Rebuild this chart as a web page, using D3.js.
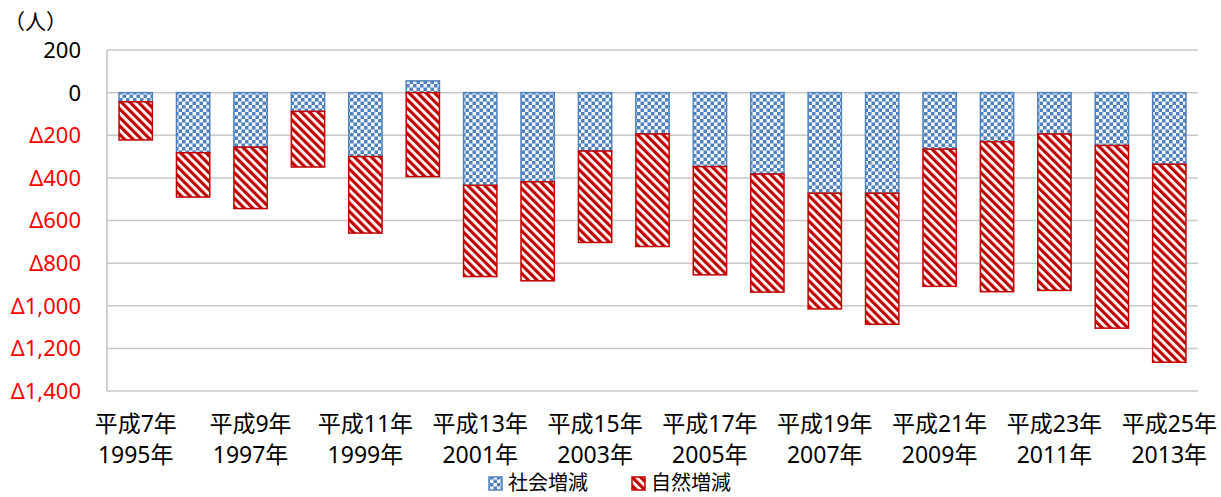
<!DOCTYPE html>
<html>
<head>
<meta charset="utf-8">
<script src="https://cdn.jsdelivr.net/npm/d3@7"></script>
<style>
  body { margin: 0; background: #fff; }
  svg { display: block; font-family: "Noto Sans", "Noto Sans CJK JP", sans-serif; }
  .tick-y { font-size: 22px; }
  .tick-x { font-size: 23px; fill: #000; }
  .legend text { font-size: 20px; }
</style>
</head>
<body>
<svg id="chart" width="1221" height="497"></svg>
<script>
// 年次（平成7年〜平成25年）
const years = [1995, 1996, 1997, 1998, 1999, 2000, 2001, 2002, 2003, 2004,
               2005, 2006, 2007, 2008, 2009, 2010, 2011, 2012, 2013];
// 社会増減
const social = [-43, -282, -256, -88, -300, 55, -435, -418, -274, -194,
                -347, -382, -472, -472, -265, -230, -194, -248, -336];
// 自然増減
const natural = [-179, -208, -288, -261, -359, -394, -428, -465, -429, -528,
                 -508, -554, -543, -615, -644, -704, -734, -857, -929];
const yTicks = [200, 0, -200, -400, -600, -800, -1000, -1200, -1400];
const seriesNames = { social: '社会増減', natural: '自然増減' };

const M = { t: 50, r: 23, b: 106, l: 107 };
const W = 1221, H = 497;
const svg = d3.select('#chart');

// patterns: small checker for 社会増減, diagonal stripes for 自然増減
const defs = svg.append('defs');
const pChk = defs.append('pattern').attr('id', 'pat-social')
  .attr('patternUnits', 'userSpaceOnUse').attr('width', 7).attr('height', 7);
pChk.append('rect').attr('width', 7).attr('height', 7).attr('fill', '#f4f7fb');
pChk.append('rect').attr('x', 0).attr('y', 0).attr('width', 3.5).attr('height', 3.5).attr('fill', '#4f81bd');
pChk.append('rect').attr('x', 3.5).attr('y', 3.5).attr('width', 3.5).attr('height', 3.5).attr('fill', '#4f81bd');

const pStr = defs.append('pattern').attr('id', 'pat-natural')
  .attr('patternUnits', 'userSpaceOnUse').attr('width', 6).attr('height', 6)
  .attr('patternTransform', 'rotate(-45)');
pStr.append('rect').attr('width', 6).attr('height', 6).attr('fill', '#fff');
pStr.append('rect').attr('x', 0).attr('width', 3.2).attr('height', 6).attr('fill', '#c00000');

const rows = years.map((y, i) => ({ year: y, social: social[i], natural: natural[i] }));
const stacked = d3.stack().keys(['social', 'natural']).offset(d3.stackOffsetDiverging)(rows);

const x = d3.scaleBand().domain(years).range([M.l, W - M.r]).paddingInner(0.42).paddingOuter(0.21);
const y = d3.scaleLinear().domain([-1400, 200]).range([H - M.b, M.t]);

// gridlines
svg.append('g').selectAll('line').data(yTicks).join('line')
  .attr('x1', M.l).attr('x2', W - M.r)
  .attr('y1', d => y(d)).attr('y2', d => y(d))
  .attr('stroke', '#c8c8c8').attr('stroke-width', 1.5);
// left axis line
svg.append('line').attr('x1', M.l).attr('x2', M.l).attr('y1', y(200)).attr('y2', y(-1400))
  .attr('stroke', '#c0c0c0').attr('stroke-width', 1.5);

// y tick labels
const fmt = d3.format(',');
svg.append('g').selectAll('text').data(yTicks).join('text')
  .attr('class', 'tick-y')
  .attr('x', 81).attr('y', d => y(d)).attr('dy', '0.36em')
  .attr('text-anchor', 'end')
  .attr('fill', d => d < 0 ? '#ff0000' : '#000')
  .text(d => d < 0 ? 'Δ' + fmt(-d) : fmt(d));

svg.append('text').attr('x', 4).attr('y', 29).attr('font-size', 21).text('（人）');

// bars
const colors = { social: '#4f81bd', natural: '#c00000' };
svg.append('g').selectAll('g').data(stacked).join('g')
  .attr('fill', s => `url(#pat-${s.key})`)
  .attr('stroke', s => colors[s.key]).attr('stroke-width', 1.5)
  .selectAll('rect').data(s => s).join('rect')
  .attr('x', d => x(d.data.year))
  .attr('width', x.bandwidth())
  .attr('y', d => y(Math.max(d[0], d[1])))
  .attr('height', d => Math.abs(y(d[0]) - y(d[1])));

// x labels, every other year, two lines
const gx = svg.append('g');
years.forEach((yr, i) => {
  if (i % 2) return;
  const cx = x(yr) + x.bandwidth() / 2;
  gx.append('text').attr('class', 'tick-x').attr('x', cx).attr('y', 432)
    .attr('text-anchor', 'middle').text(`平成${yr - 1988}年`);
  gx.append('text').attr('class', 'tick-x').attr('x', cx).attr('y', 463)
    .attr('text-anchor', 'middle').text(`${yr}年`);
});

// legend
const lg = svg.append('g').attr('class', 'legend');
[['social', 489], ['natural', 632]].forEach(([k, lx]) => {
  lg.append('rect').attr('x', lx).attr('y', 477).attr('width', 13).attr('height', 13)
    .attr('fill', `url(#pat-${k})`).attr('stroke', colors[k]).attr('stroke-width', 1.5);
  lg.append('text').attr('x', lx + 19).attr('y', 490).text(seriesNames[k]);
});
</script>
</body>
</html>
